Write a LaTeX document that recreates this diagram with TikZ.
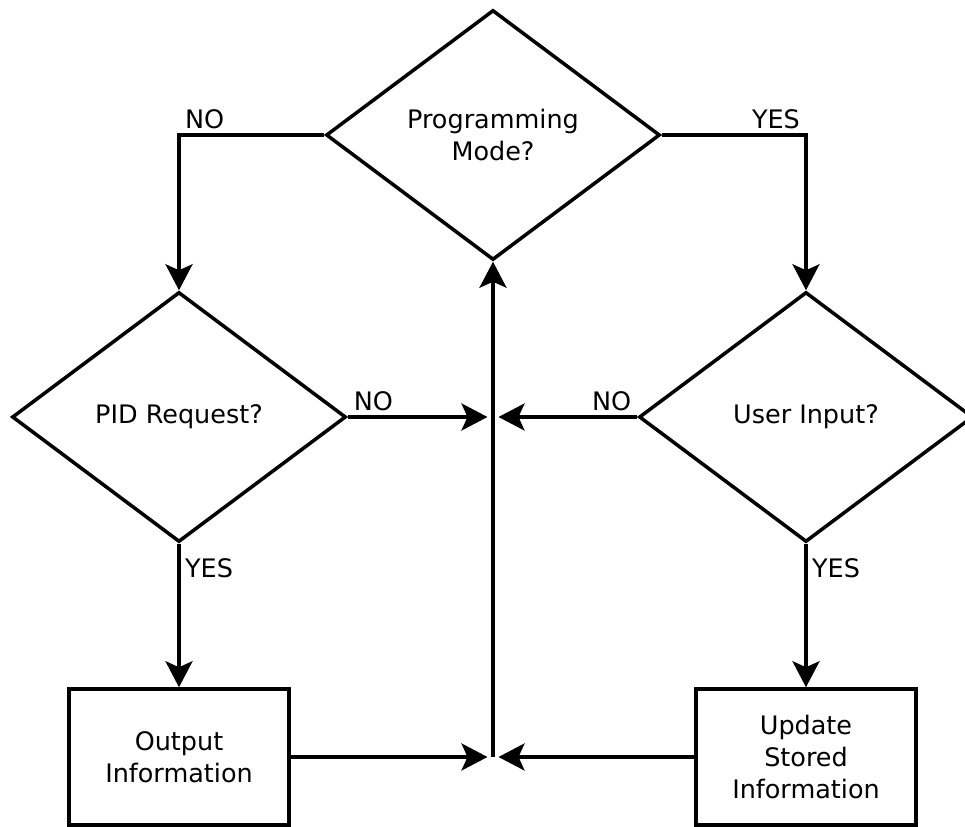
\documentclass[tikz,border=0pt]{standalone}
\usepackage{fontspec}
\setmainfont{DejaVu Sans}
\usetikzlibrary{shapes.geometric, arrows.meta, positioning}

\begin{document}
\begin{tikzpicture}[
  x=0.02cm, y=-0.02cm,
  decision/.style={diamond, aspect=1.33, draw, line width=2pt,
    minimum width=6.68cm, minimum height=5cm, inner sep=0pt,
    align=center, font=\fontsize{14.5}{18.2}\selectfont},
  process/.style={rectangle, draw, line width=2pt,
    minimum width=4.4cm, minimum height=2.72cm,
    align=center, font=\fontsize{14.5}{18.2}\selectfont},
  lbl/.style={font=\fontsize{14.5}{18.2}\selectfont, inner sep=2.5pt},
  arr/.style={-{Stealth[length=0.52cm, width=0.54cm, inset=0.12cm]},
    line width=2pt}
]
  \useasboundingbox (0,0) rectangle (965,827);

  \node[decision] (prog) at (493,135) {Programming\\Mode?};
  \node[decision] (pid)  at (179,417) {PID Request?};
  \node[decision] (user) at (806,417) {User Input?};
  \node[process]  (out)  at (179,757) {Output\\Information};
  \node[process]  (upd)  at (806,757) {Update\\Stored\\Information};

  \coordinate (midhub) at (493,417);
  \coordinate (bothub) at (493,757);

  \draw[arr] (prog.west) -| (pid.north)
    node[lbl, pos=0.5, above right] {NO};
  \draw[arr] (prog.east) -| (user.north)
    node[lbl, pos=0.5, above left] {YES};

  \draw[arr, shorten >=0.11cm] (pid.east)
    node[lbl, above right] {NO} -- (midhub);
  \draw[arr, shorten >=0.11cm] (user.west)
    node[lbl, above left] {NO} -- (midhub);

  \draw[arr] (pid.south)
    node[lbl, below right, yshift=-0.17cm] {YES} -- (out.north);
  \draw[arr] (user.south)
    node[lbl, below right, yshift=-0.17cm] {YES} -- (upd.north);

  \draw[arr, shorten >=0.11cm] (out.east) -- (bothub);
  \draw[arr, shorten >=0.11cm] (upd.west) -- (bothub);
  \draw[arr] (bothub) -- (prog.south);
\end{tikzpicture}
\end{document}
